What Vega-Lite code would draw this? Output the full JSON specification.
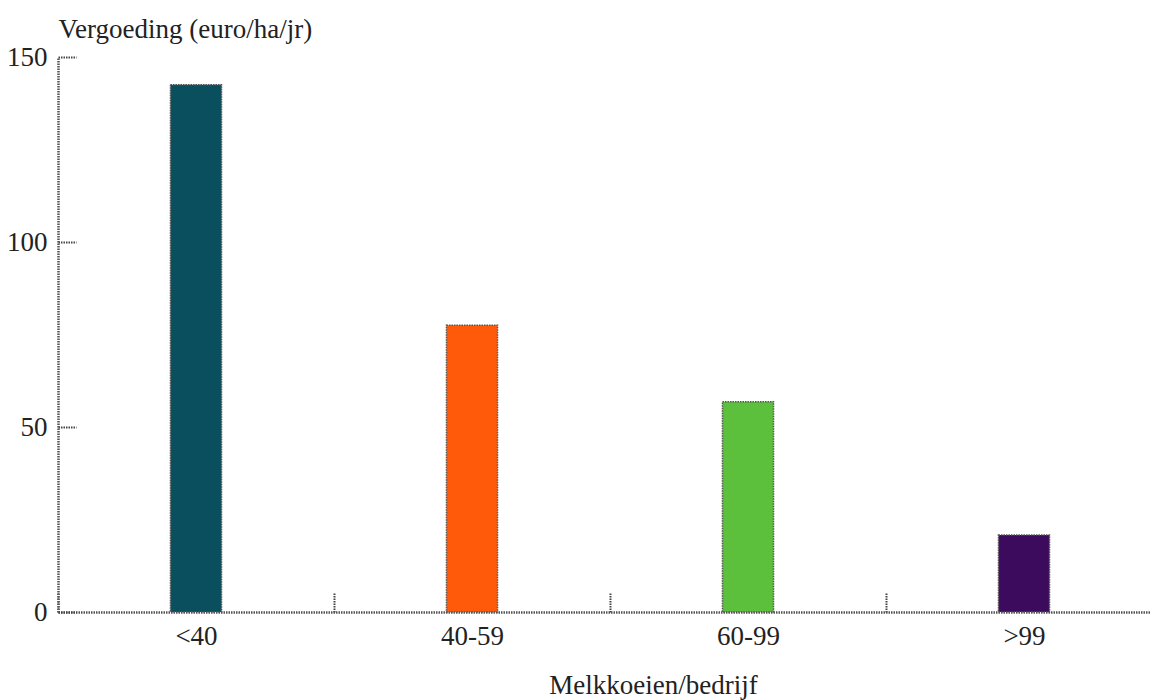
{
  "$schema": "https://vega.github.io/schema/vega-lite/v6.json",
  "autosize": {"type": "none"},
  "padding": {"left": 58, "top": 57, "right": 0, "bottom": 88},
  "width": 1104,
  "height": 555,
  "background": "white",
  "config": {
    "view": {"stroke": null},
    "font": "Liberation Serif"
  },
  "data": {
    "values": [
      {"groep": "<40", "vergoeding": 142.5},
      {"groep": "40-59", "vergoeding": 77.5},
      {"groep": "60-99", "vergoeding": 56.8},
      {"groep": ">99", "vergoeding": 20.8}
    ]
  },
  "mark": {
    "type": "bar",
    "width": {"band": 0.185},
    "stroke": "#555555",
    "strokeWidth": 1.5,
    "strokeDash": [1.5, 1]
  },
  "encoding": {
    "x": {
      "field": "groep",
      "type": "nominal",
      "sort": ["<40", "40-59", "60-99", ">99"],
      "scale": {"paddingInner": 0, "paddingOuter": 0},
      "axis": {
        "title": "Melkkoeien/bedrijf",
        "titleFont": "Liberation Serif",
        "titleFontSize": 27,
        "titleFontWeight": "normal",
        "titleColor": "#222222",
        "titleX": 595,
        "titleY": 81,
        "titleAlign": "center",
        "titleBaseline": "alphabetic",
        "labelAngle": 0,
        "labelFont": "Liberation Serif",
        "labelFontSize": 27,
        "labelColor": "#222222",
        "labelPadding": 30,
        "tickBand": "extent",
        "tickSize": -19,
        "tickColor": "#444444",
        "tickWidth": 2,
        "tickDash": [1.5, 1],
        "domainColor": "#555555",
        "domainWidth": 2.5,
        "domainDash": [1.5, 1]
      }
    },
    "y": {
      "field": "vergoeding",
      "type": "quantitative",
      "scale": {"domain": [0, 150], "nice": false},
      "axis": {
        "values": [0, 50, 100, 150],
        "grid": false,
        "title": "Vergoeding (euro/ha/jr)",
        "titleFont": "Liberation Serif",
        "titleFontSize": 27,
        "titleFontWeight": "normal",
        "titleColor": "#222222",
        "titleAngle": 0,
        "titleX": 0,
        "titleY": -20,
        "titleAlign": "left",
        "titleBaseline": "alphabetic",
        "labelFont": "Liberation Serif",
        "labelFontSize": 27,
        "labelColor": "#222222",
        "labelPadding": 29,
        "tickSize": -18,
        "tickColor": "#444444",
        "tickWidth": 2,
        "tickDash": [1.5, 1],
        "domainColor": "#555555",
        "domainWidth": 2.5,
        "domainDash": [1.5, 1]
      }
    },
    "color": {
      "field": "groep",
      "type": "nominal",
      "scale": {
        "domain": ["<40", "40-59", "60-99", ">99"],
        "range": ["#0a4f5e", "#ff5a0a", "#5cc03c", "#3d0b5e"]
      },
      "legend": null
    }
  }
}
